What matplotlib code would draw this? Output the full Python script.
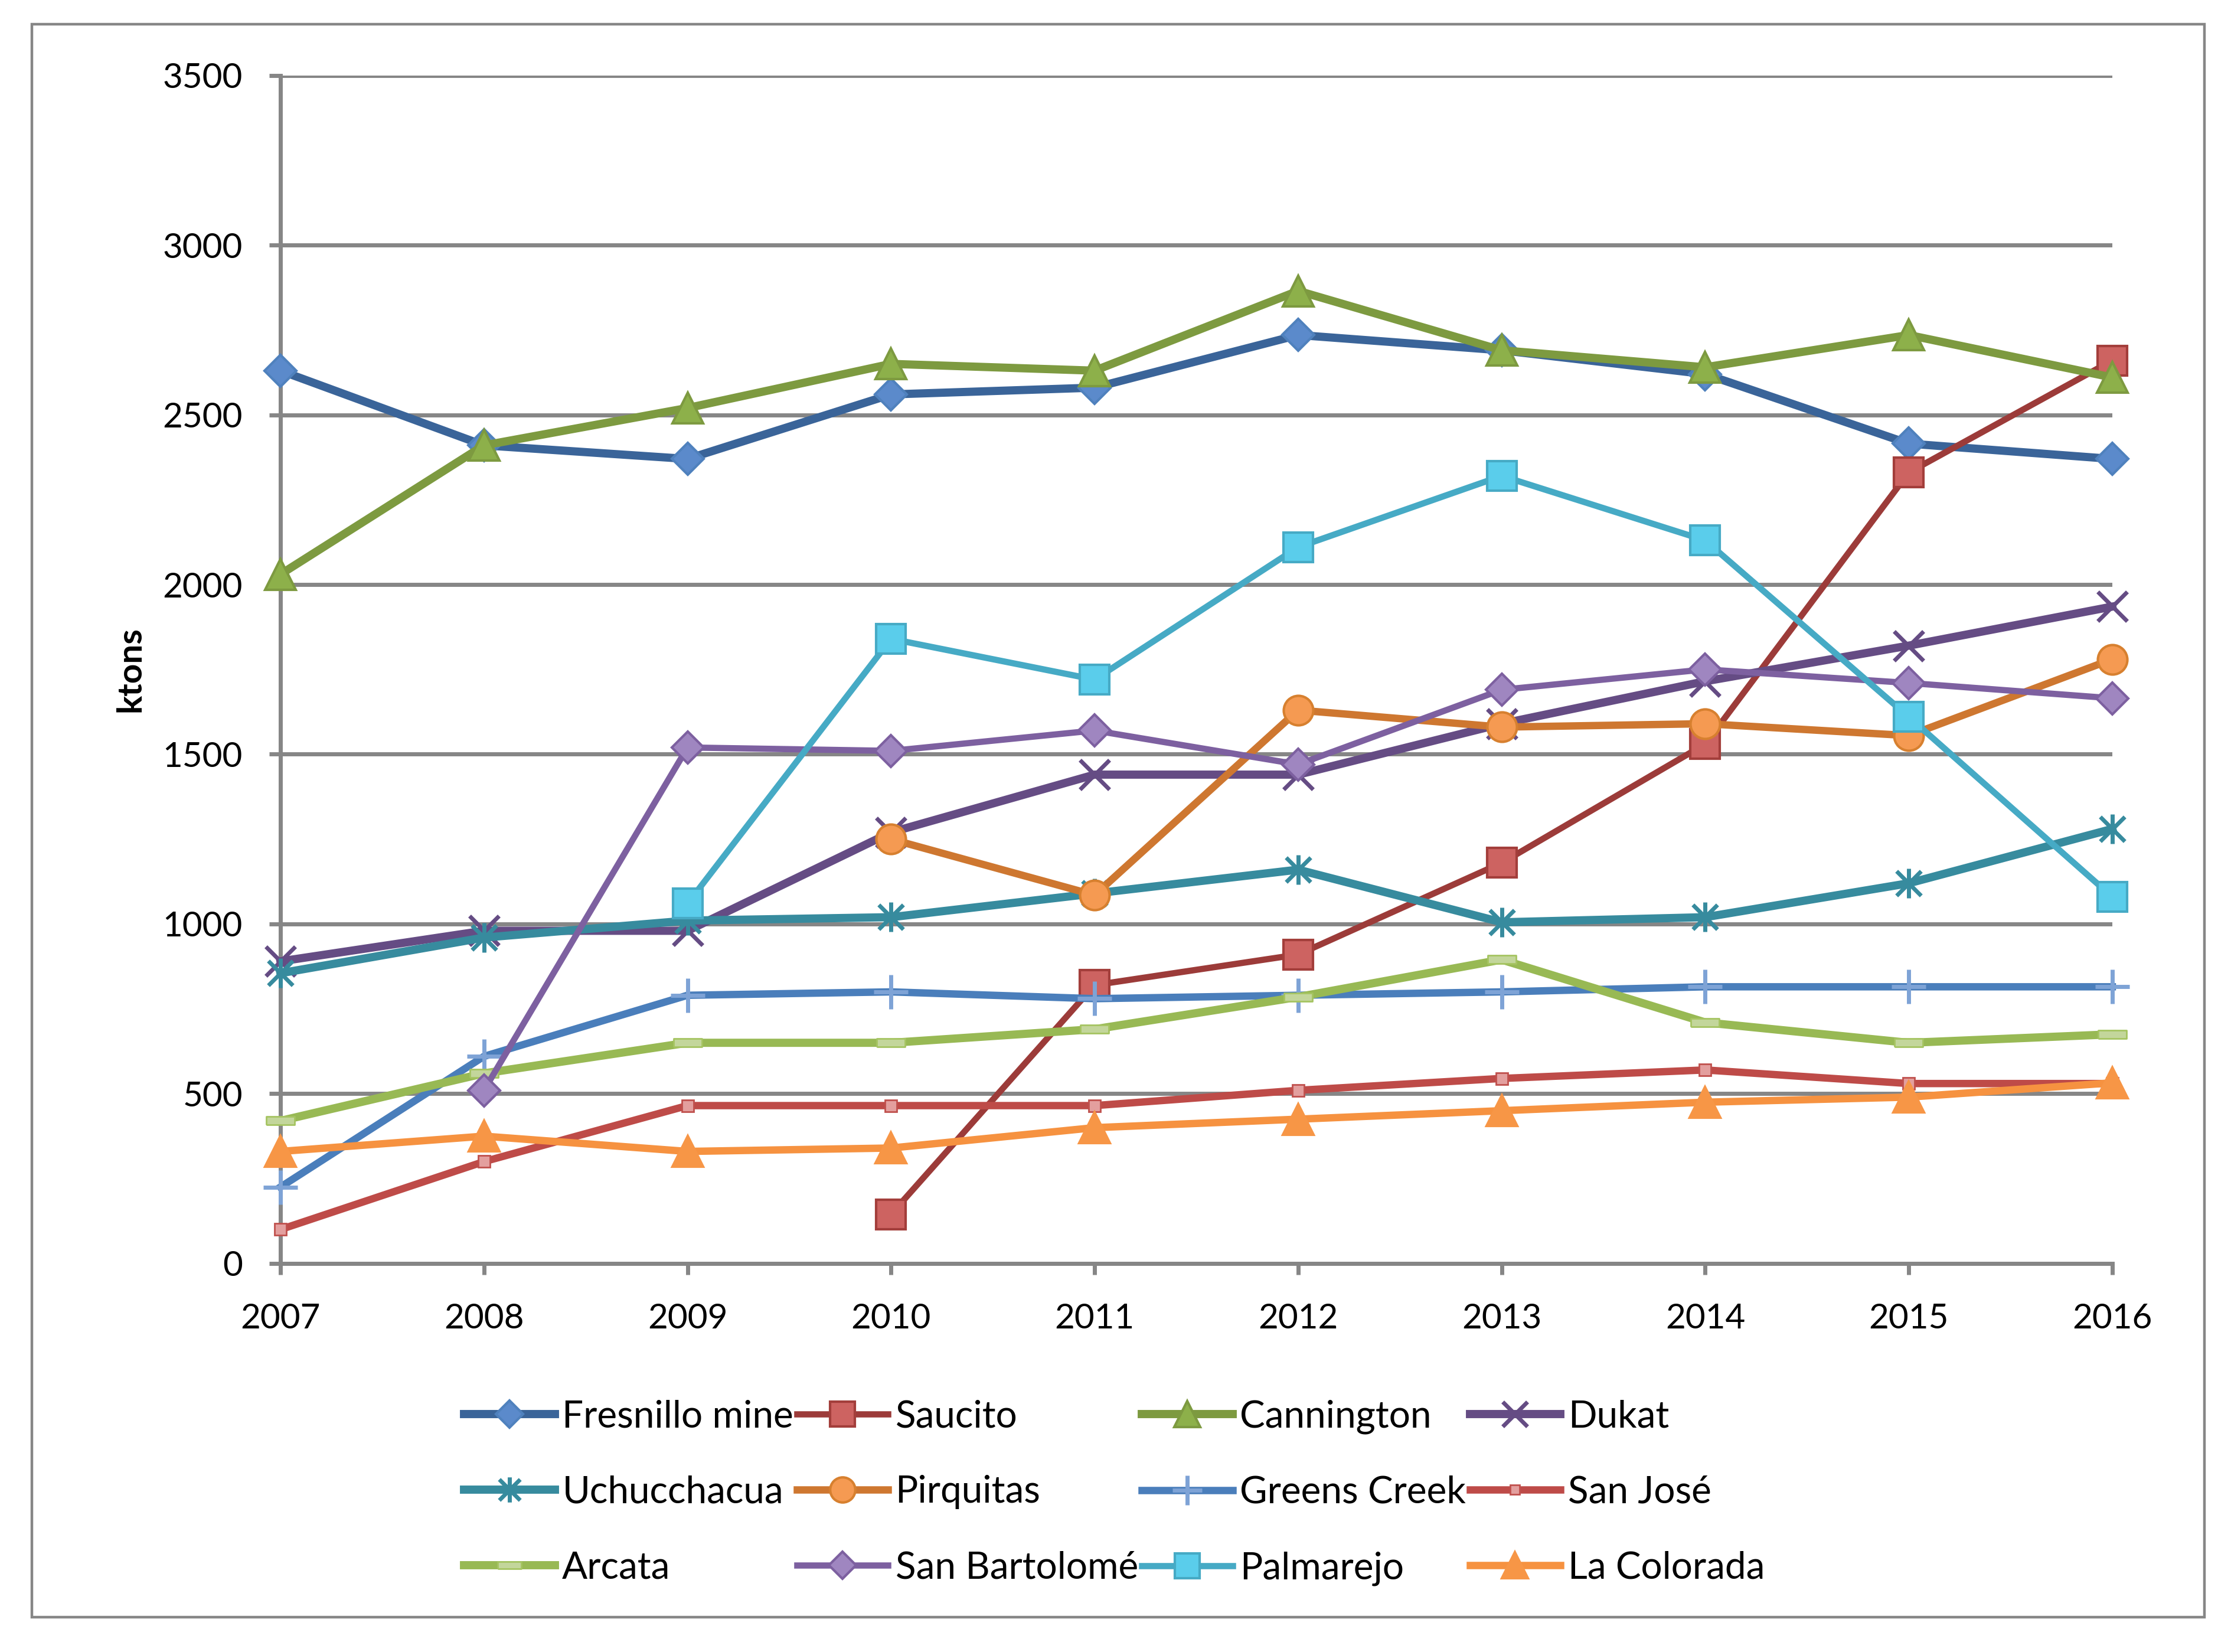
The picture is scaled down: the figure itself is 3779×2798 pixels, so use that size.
import matplotlib
matplotlib.use("Agg")
import matplotlib.pyplot as plt
from matplotlib.patches import Rectangle
from matplotlib.path import Path
import numpy as np

years = [2007, 2008, 2009, 2010, 2011, 2012, 2013, 2014, 2015, 2016]
N = None
fresnillo = [2630, 2410, 2370, 2560, 2580, 2735, 2690, 2620, 2415, 2370]
saucito = [N, N, N, 145, 820, 910, 1180, 1530, 2330, 2660]
cannington = [2030, 2410, 2520, 2650, 2630, 2865, 2690, 2640, 2735, 2610]
dukat = [890, 980, 980, 1270, 1440, 1440, 1590, 1715, 1820, 1935]
uchucchacua = [855, 960, 1010, 1020, 1090, 1160, 1005, 1020, 1120, 1280]
pirquitas = [N, N, N, 1250, 1085, 1630, 1580, 1590, 1555, 1780]
greens_creek = [225, 610, 790, 800, 780, 790, 800, 815, 815, 815]
san_jose = [100, 300, 465, 465, 465, 510, 545, 570, 530, 530]
arcata = [420, 560, 650, 650, 690, 785, 895, 710, 650, 675]
san_bartolome = [N, 510, 1520, 1510, 1570, 1470, 1690, 1750, 1710, 1665]
palmarejo = [N, N, 1060, 1840, 1720, 2110, 2320, 2130, 1610, 1080]
la_colorada = [330, 375, 330, 340, 400, 425, 450, 475, 490, 532]

names = ["Fresnillo mine", "Saucito", "Cannington", "Dukat",
         "Uchucchacua", "Pirquitas", "Greens Creek", "San José",
         "Arcata", "San Bartolomé", "Palmarejo", "La Colorada"]
series = [fresnillo, saucito, cannington, dukat, uchucchacua, pirquitas,
          greens_creek, san_jose, arcata, san_bartolome, palmarejo, la_colorada]

star = Path([(-1, -1), (1, 1), (-1, 1), (1, -1), (0, -1.2), (0, 1.2)],
            [Path.MOVETO, Path.LINETO, Path.MOVETO, Path.LINETO, Path.MOVETO, Path.LINETO])
longdash = [(-1, -0.3), (1, -0.3), (1, 0.3), (-1, 0.3), (-1, -0.3)]

styles = [
    dict(color="#3A6499", lw=5.0, marker="D", ms=14, mfc="#5B8ACB", mec="#4F81BD", mew=1.5),
    dict(color="#9C3B39", lw=3.8, marker="s", ms=18, mfc="#CD6361", mec="#A33E3B", mew=1.5),
    dict(color="#7D9A40", lw=5.0, marker="^", ms=19, mfc="#8DB04A", mec="#7D9A40", mew=1.5),
    dict(color="#654C84", lw=5.0, marker="x", ms=18, mfc="none", mec="#654C84", mew=2.5),
    dict(color="#378B9E", lw=5.0, marker=star, ms=18, mfc="none", mec="#378B9E", mew=2.5),
    dict(color="#CE7730", lw=4.5, marker="o", ms=18, mfc="#F59A52", mec="#D7802F", mew=1.5),
    dict(color="#4A7EBB", lw=4.5, marker="+", ms=21, mfc="none", mec="#7EA3D6", mew=2.5),
    dict(color="#BE4B48", lw=4.5, marker="s", ms=7, mfc="#E39F9E", mec="#C0504D", mew=1.0),
    dict(color="#98B954", lw=5.0, marker=longdash, ms=17, mfc="#C3D69B", mec="#A5C461", mew=1.0),
    dict(color="#7D60A0", lw=3.8, marker="D", ms=14, mfc="#9F86C0", mec="#7D60A0", mew=1.5),
    dict(color="#46AAC5", lw=3.8, marker="s", ms=18, mfc="#5ACDEB", mec="#46AAC5", mew=1.5),
    dict(color="#F69240", lw=4.5, marker="^", ms=19, mfc="#F79646", mec="#F79646", mew=1.5),
]

plt.rcParams["font.family"] = ["Lato", "DejaVu Sans"]

fig = plt.figure(figsize=(18.895, 13.99), dpi=200)
ax = fig.add_axes([0.1257, 0.2352, 0.9468 - 0.1257, 0.9544 - 0.2352])

grey = "#868686"
handles = []
for name, vals, st in zip(names, series, styles):
    y = np.array([np.nan if v is None else v for v in vals], dtype=float)
    h, = ax.plot(years, y, label=name, clip_on=False, zorder=3, solid_joinstyle="round", **st)
    handles.append(h)

ax.set_xlim(2007, 2016)
ax.set_ylim(0, 3500)
ax.set_yticks(np.arange(0, 3501, 500))
ax.set_xticks(years)
ax.set_xticklabels([str(y) for y in years])
ax.yaxis.grid(True, color=grey, lw=2.5)
ax.set_axisbelow(True)
for s in ["top", "right"]:
    ax.spines[s].set_visible(False)
for s in ["left", "bottom"]:
    ax.spines[s].set_color(grey)
    ax.spines[s].set_linewidth(2.5)
ax.tick_params(axis="both", direction="out", color=grey, width=2.5, length=7,
               labelsize=21, labelcolor="black")
ax.tick_params(axis="x", pad=17)
ax.tick_params(axis="y", pad=16)
ax.set_ylabel("ktons", fontsize=21, fontweight="bold", labelpad=10)

order = [0, 4, 8, 1, 5, 9, 2, 6, 10, 3, 7, 11]
leg = fig.legend([handles[i] for i in order], [names[i] for i in order],
                 ncol=4, loc="center", bbox_to_anchor=(0.4995, 0.0965),
                 frameon=False, fontsize=23, handlelength=2.4, handletextpad=0.2,
                 columnspacing=0.1, labelspacing=1.1, markerscale=0.85)

fig.patches.append(Rectangle((0.0143, 0.0211), 0.988 - 0.0143, 0.9853 - 0.0211,
                             transform=fig.transFigure, fill=False,
                             edgecolor=grey, lw=1.6))

fig.savefig("out.png", dpi=200, facecolor="white")
